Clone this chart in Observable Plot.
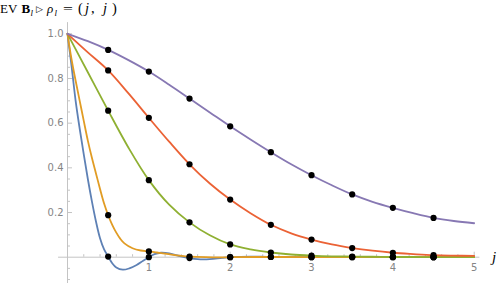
<!DOCTYPE html>
<html><head><meta charset="utf-8">
<script src="https://cdn.jsdelivr.net/npm/d3@7"></script>
<script src="https://cdn.jsdelivr.net/npm/@observablehq/plot@0.6"></script>
<style>
body{margin:0;background:#fff}
#wrap{position:relative;width:498px;height:283px}
#title{position:absolute;left:0;top:0;width:140px;height:19px;font-family:"Liberation Serif",serif;font-size:13px;color:#000;z-index:2}
#title span{position:absolute;top:1px;line-height:15px;white-space:nowrap}
#title span.sub{font-size:9px;top:6px;font-style:italic}
#title span.tri{font-family:"DejaVu Sans";font-size:9px;top:2px}
#title .it{font-style:italic}
#title span.big{font-size:14.5px;top:0px;line-height:16px}
</style>
</head><body>
<div id="wrap"><div id="title"><span style="left:0">EV</span><span style="left:21.5px;font-weight:bold">B</span><span class="sub" style="left:30.5px">l</span><span class="tri" style="left:36px">▷</span><span class="it" style="left:47px">ρ</span><span class="sub" style="left:54.5px">l</span><span style="left:63px;transform:scaleX(1.35);transform-origin:left">=</span><span class="big" style="left:78px">(</span><span class="it big" style="left:85px">j</span><span class="big" style="left:91px">,</span><span class="it big" style="left:103px">j</span><span class="big" style="left:112px">)</span></div></div>
<script>
// ---- data ----
const blueJ = [0,0.05,0.1,0.15,0.2,0.25,0.3,0.35,0.4,0.45,0.5,0.55,0.6,0.68,0.76,0.85,0.93,1,1.07,1.15,1.25,1.35,1.5,1.6,1.75,1.9,2,2.25,2.5,3,3.5,4,4.5,5];
const blueV = [1,0.855,0.70,0.575,0.46,0.35,0.25,0.16,0.085,0.035,0.003,-0.027,-0.046,-0.056,-0.05,-0.035,-0.016,0,0.014,0.02,0.017,0.008,-0.004,-0.009,-0.009,-0.003,0,0.003,0.001,0,0,0,0,0];
const orangeJ = [0,0.05,0.1,0.15,0.2,0.25,0.3,0.35,0.4,0.45,0.5,0.55,0.6,0.65,0.7,0.8,0.9,1,1.1,1.2,1.3,1.4,1.5,1.7,1.9,2,2.5,3,3.5,4,4.5,5];
const orangeV = [1,0.885,0.79,0.70,0.61,0.522,0.445,0.375,0.305,0.24,0.188,0.145,0.11,0.082,0.062,0.04,0.03,0.026,0.021,0.016,0.01,0.006,0.003,0,-0.001,0,0.001,0,0,0,0,0];
const gridJ = [0,0.25,0.5,0.75,1,1.25,1.5,1.75,2,2.25,2.5,2.75,3,3.25,3.5,3.75,4,4.25,4.5,4.75,5];
const greenV = [1,0.828,0.656,0.49,0.345,0.235,0.156,0.098,0.057,0.035,0.021,0.012,0.007,0.004,0.003,0.002,0.001,0.001,0,0,0];
const redV = [1,0.917,0.836,0.733,0.624,0.517,0.416,0.33,0.258,0.197,0.145,0.107,0.079,0.057,0.041,0.029,0.02,0.014,0.009,0.007,0.006];
const purpleV = [1,0.967,0.928,0.882,0.831,0.772,0.710,0.648,0.586,0.527,0.470,0.416,0.367,0.322,0.281,0.248,0.221,0.197,0.176,0.162,0.152];
const dotJ = [0.5,1,1.5,2,2.5,3,3.5,4,4.5];
const xTickLabels = [1,2,3,4,5];
const yTickLabels = [0.2,0.4,0.6,0.8,1.0];
const xMinorTicks = d3.range(0, 5.001, 0.2).map(v => +v.toFixed(2)).filter(v => v !== 0);
const yMinorTicks = d3.range(-0.1, 1.0001, 0.05).map(v => +v.toFixed(2)).filter(v => v !== 0);

const seriesList = [
  {name: "s1", color: "#5E81B5", J: blueJ, V: blueV},
  {name: "s2", color: "#E19C24", J: orangeJ, V: orangeV},
  {name: "s3", color: "#8FB032", J: gridJ, V: greenV},
  {name: "s4", color: "#EB6235", J: gridJ, V: redV},
  {name: "s5", color: "#8778B3", J: gridJ, V: purpleV}
];
const curves = seriesList.flatMap(s => s.J.map((j, i) => ({series: s.name, j, v: s.V[i]})));
const dots = seriesList.flatMap(s => dotJ.map(j => ({series: s.name, j, v: s.V[s.J.indexOf(j)]})));

const W = 498, H = 283, ml = 67, mr = 24.3, mt = 33.3, mb = 26.3;
const kx = (W - ml - mr) / 5;   // px per unit in x
const ky = (H - mt - mb) / 1;   // px per unit in y
const axisColor = "#c4c4c4";
const labelColor = "#858585";

const chart = Plot.plot({
  width: W, height: H,
  marginLeft: ml, marginRight: mr, marginTop: mt, marginBottom: mb,
  x: {domain: [0, 5], axis: null},
  y: {domain: [0, 1], axis: null},
  color: {type: "ordinal", domain: seriesList.map(s => s.name), range: seriesList.map(s => s.color)},
  style: {fontFamily: "DejaVu Sans", fontSize: "10px", background: "transparent"},
  marks: [
    // axes
    Plot.ruleY([0], {x1: -0.11, x2: 5.07, stroke: axisColor, strokeWidth: 1}),
    Plot.ruleX([0], {y1: -0.12, y2: 1.05, stroke: axisColor, strokeWidth: 1}),
    // x ticks (upward)
    Plot.ruleX(xMinorTicks, {x: d => d, y1: 0, y2: d => Number.isInteger(d) ? 5 / ky : 2.5 / ky, stroke: axisColor}),
    // y ticks (to the right)
    Plot.ruleY(yMinorTicks, {y: d => d, x1: 0, x2: d => (Math.abs(d * 5 - Math.round(d * 5)) < 1e-6) ? 5 / kx : 3 / kx, stroke: axisColor}),
    // tick labels
    Plot.text(yTickLabels, {x: 0, y: d => d, text: d => d.toFixed(1), textAnchor: "end", dx: -4, fill: labelColor, fontSize: 10}),
    Plot.text(xTickLabels, {x: d => d, y: 0, text: d => String(d), dy: 11, fill: labelColor, fontSize: 10}),
    Plot.text(["j"], {x: 5, y: 0, text: d => d, dx: 20, dy: 0, fontFamily: "Liberation Serif", fontStyle: "italic", fontSize: 15, fill: "#000"}),
    // curves
    Plot.line(curves, {x: "j", y: "v", z: "series", stroke: "series", strokeWidth: 1.8, curve: "catmull-rom"}),
    // sample points
    Plot.dot(dots, {x: "j", y: "v", r: 3.1, fill: "#000", stroke: "none"})
  ]
});
document.getElementById("wrap").prepend(chart);
chart.style.position = "absolute";
chart.style.left = "0";
chart.style.top = "0";
</script>
</body></html>
